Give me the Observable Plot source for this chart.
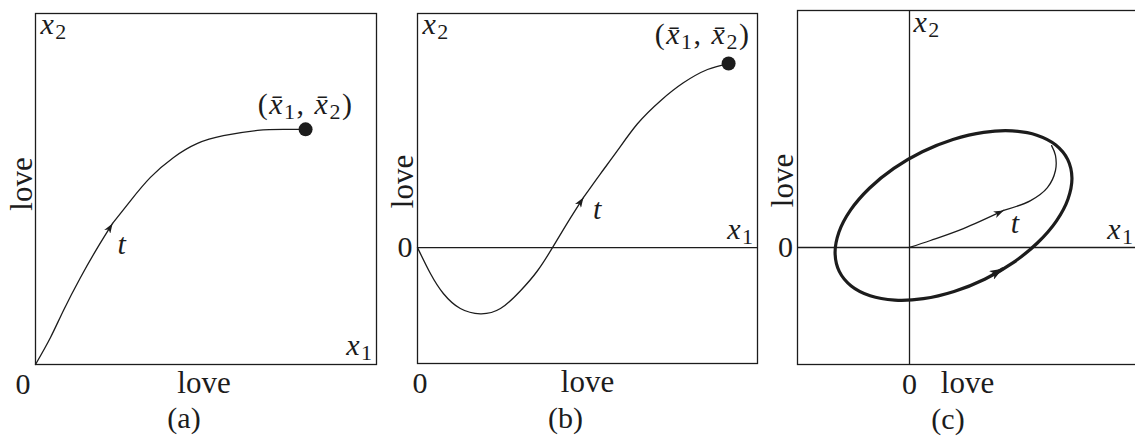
<!DOCTYPE html>
<html><head><meta charset="utf-8">
<script src="https://cdn.jsdelivr.net/npm/d3@7"></script>
<script src="https://cdn.jsdelivr.net/npm/@observablehq/plot@0.6"></script>
<style>
html,body{margin:0;padding:0;background:#fff;overflow:hidden;}
#wrap{position:relative;width:1135px;height:438px;overflow:hidden;background:#fff;}
#wrap svg{position:absolute;top:0;background:transparent;}
</style></head><body><div id="wrap"></div>
<script>
// ---------- Panel (a): trajectory to a stable equilibrium ----------
const aX1 = [0, 0.44, 0.82, 1.32, 1.82, 2.26, 2.79, 3.37, 4.05, 4.75, 5.51, 6.51, 7.27, 7.92];
const aX2 = [0, 0.77, 1.54, 2.48, 3.33, 4.02, 4.67, 5.33, 5.90, 6.30, 6.52, 6.67, 6.70, 6.70];
const aArrowAt = 5;

// ---------- Panel (b): trajectory dipping below zero ----------
const bX1 = [0, 0.38, 0.76, 1.26, 1.85, 2.44, 3.03, 3.53, 3.97, 4.41, 4.88, 5.38, 5.88, 6.47, 7.15, 7.82, 8.53, 9.15];
const bX2 = [0, -0.74, -1.31, -1.74, -1.89, -1.74, -1.23, -0.66, 0, 0.71, 1.43, 2.11, 2.77, 3.54, 4.20, 4.71, 5.09, 5.26];
const bArrowAt = 10;

// ---------- Panel (c): limit cycle and spiral out from origin ----------
const cCycleX1 = [4.521, 4.179, 3.638, 2.935, 2.118, 1.241, 0.366, -0.448, -1.146, -1.681, -2.015, -2.126, -2.007, -1.665, -1.125, -0.421, 0.396, 1.273, 2.148, 2.962, 3.660, 4.195, 4.529, 4.641];
const cCycleX2 = [2.511, 2.928, 3.208, 3.331, 3.290, 3.086, 2.735, 2.260, 1.693, 1.073, 0.442, -0.157, -0.683, -1.100, -1.380, -1.503, -1.462, -1.258, -0.907, -0.432, 0.136, 0.755, 1.387, 1.985];
const cCycleArrowX1 = [2.40, 2.66];
const cCycleArrowX2 = [-0.76, -0.61];
const cSpiralX1 = [0, 0.6, 1.54, 2.69, 3.46, 3.94, 4.17, 4.17, 4.06];
const cSpiralX2 = [0, 0.2, 0.54, 1.06, 1.34, 1.71, 2.2, 2.63, 2.91];
const cSpiralArrowAt = 3;

// ---------- Text ----------
const axisWord = "love";
const zeroLabel = "0";
const x1Label = "x_1";
const x2Label = "x_2";
const tLabel = "t";
const eqLabel = "(x\u0304_1, x\u0304_2)";
const captions = ["(a)", "(b)", "(c)"];

const FONT = "Liberation Serif";
const INK = "#1c1c1c";
const NS = "http://www.w3.org/2000/svg";

const table = (xs, ys) => xs.map((x1, i) => ({x1, x2: ys[i]}));

function arrowHead(len, half) {
  return (color, context) => {
    const doc = (context && context.document) || document;
    const m = doc.createElementNS(NS, "marker");
    m.setAttribute("viewBox", `${-len} ${-half} ${len} ${2 * half}`);
    m.setAttribute("markerWidth", len);
    m.setAttribute("markerHeight", 2 * half);
    m.setAttribute("markerUnits", "userSpaceOnUse");
    m.setAttribute("orient", "auto");
    m.setAttribute("refX", 0);
    m.setAttribute("refY", 0);
    m.setAttribute("fill", color);
    m.setAttribute("stroke", "none");
    const p = doc.createElementNS(NS, "path");
    p.setAttribute("d", `M0,0L${-len},${-half}L${-len * 0.72},0L${-len},${half}Z`);
    m.appendChild(p);
    return m;
  };
}
const thinArrow = arrowHead(10, 3.6);
const thickArrow = arrowHead(13, 5);

const T = {fontFamily: FONT, fontSize: 30, fill: INK, lineAnchor: "middle", textAnchor: "middle", text: d => d};
const W = {...T, fontSize: 31};

// convert simple math markup into tspans (italic letters, subscripts)
function mathify(svg) {
  svg.querySelectorAll("text").forEach(t => {
    const s = t.textContent;
    if (!(s.includes("_") || s === tLabel)) return;
    const parts = [];
    for (let i = 0; i < s.length; i++) {
      const c = s[i];
      if (c === "_") { parts.push({s: s[i + 1], sub: true}); i++; continue; }
      if (/[a-z]/.test(c)) {
        let g = c;
        while (i + 1 < s.length && /[\u0300-\u036f]/.test(s[i + 1])) g += s[++i];
        parts.push({s: g, it: true});
        continue;
      }
      parts.push({s: c});
    }
    t.textContent = "";
    t.setAttribute("letter-spacing", "1.5");
    let shifted = false;
    for (const p of parts) {
      const ts = document.createElementNS(NS, "tspan");
      ts.textContent = p.s;
      if (p.it) ts.setAttribute("font-style", "italic");
      if (p.sub) { ts.setAttribute("font-size", "22px"); ts.setAttribute("dy", "5"); shifted = true; }
      else if (shifted) { ts.setAttribute("dy", "-5"); shifted = false; }
      t.appendChild(ts);
    }
  });
}

const wrap = document.getElementById("wrap");
function panel(left, opts, marks) {
  const svg = Plot.plot({
    height: 438,
    ...opts,
    x: {domain: opts.xd, axis: null},
    y: {domain: opts.yd, axis: null},
    marks
  });
  svg.style.left = left + "px";
  mathify(svg);
  wrap.appendChild(svg);
}

function curveMarks(data, k, sw, arrow, curve = "natural") {
  return [
    Plot.line(data.slice(0, k + 1), {x: "x1", y: "x2", stroke: INK, strokeWidth: sw, curve, markerEnd: arrow}),
    Plot.line(data.slice(k), {x: "x1", y: "x2", stroke: INK, strokeWidth: sw, curve})
  ];
}

// ---- (a)
const aData = table(aX1, aX2);
const aEnd = aData[aData.length - 1];
panel(0, {width: 380, marginLeft: 35, marginRight: 4, marginTop: 13, marginBottom: 74, xd: [0, 10], yd: [0, 10]}, [
  Plot.frame({stroke: INK, strokeWidth: 1.3}),
  ...curveMarks(aData, aArrowAt, 1.3, thinArrow),
  Plot.dot([aEnd], {x: "x1", y: "x2", r: 7, fill: INK}),
  Plot.text([x2Label], {...T, frameAnchor: "top-left", textAnchor: "start", dx: 5, dy: 11}),
  Plot.text([x1Label], {...T, frameAnchor: "bottom-right", textAnchor: "end", dx: -3, dy: -19.5}),
  Plot.text([axisWord], {...W, frameAnchor: "left", rotate: -90, dx: -13, dy: -5}),
  Plot.text([axisWord], {...W, frameAnchor: "bottom", dx: -2, dy: 19}),
  Plot.text([zeroLabel], {...T, x: () => 0, y: () => 0, dx: -12.5, dy: 19.5}),
  Plot.text([captions[0]], {...T, frameAnchor: "bottom", dx: -22, dy: 54}),
  Plot.text([tLabel], {...T, x: () => 2.55, y: () => 3.43}),
  Plot.text([eqLabel], {...T, x: () => aEnd.x1, y: () => aEnd.x2, dy: -25})
]);

// ---- (b)
const bData = table(bX1, bX2);
const bEnd = bData[bData.length - 1];
panel(380, {width: 380, marginLeft: 37, marginRight: 3, marginTop: 13, marginBottom: 75, xd: [0, 10], yd: [-3.31, 6.69]}, [
  Plot.frame({stroke: INK, strokeWidth: 1.3}),
  Plot.ruleY([0], {stroke: INK, strokeWidth: 1.3}),
  ...curveMarks(bData, bArrowAt, 1.3, thinArrow),
  Plot.dot([bEnd], {x: "x1", y: "x2", r: 7, fill: INK}),
  Plot.text([x2Label], {...T, frameAnchor: "top-left", textAnchor: "start", dx: 5, dy: 11}),
  Plot.text([x1Label], {...T, y: () => 0, frameAnchor: "right", textAnchor: "end", dx: -3, dy: -18}),
  Plot.text([axisWord], {...W, frameAnchor: "left", rotate: -90, dx: -14.6, dy: -7}),
  Plot.text([axisWord], {...W, frameAnchor: "bottom", dx: 0, dy: 19}),
  Plot.text([zeroLabel], {...T, y: () => 0, frameAnchor: "left", dx: -12.5}),
  Plot.text([zeroLabel], {...T, x: () => 0, frameAnchor: "bottom", dx: 2.5, dy: 19.5}),
  Plot.text([captions[1]], {...T, frameAnchor: "bottom", dx: -22, dy: 55}),
  Plot.text([tLabel], {...T, x: () => 5.31, y: () => 1.1}),
  Plot.text([eqLabel], {...T, x: () => bEnd.x1, y: () => bEnd.x2, dx: -26, dy: -29})
]);

// ---- (c)
const cCycle = table(cCycleX1, cCycleX2);
const cCycleArrow = table(cCycleArrowX1, cCycleArrowX2);
const cSpiral = table(cSpiralX1, cSpiralX2);
panel(760, {width: 378, marginLeft: 37, marginRight: 1, marginTop: 10, marginBottom: 74, xd: [-3.2, 6.514], yd: [-3.343, 6.771]}, [
  Plot.frame({stroke: INK, strokeWidth: 1.3}),
  Plot.ruleY([0], {stroke: INK, strokeWidth: 1.3}),
  Plot.ruleX([0], {stroke: INK, strokeWidth: 1.3}),
  Plot.line(cCycle, {x: "x1", y: "x2", stroke: INK, strokeWidth: 3.2, curve: "catmull-rom-closed"}),
  Plot.line(cCycleArrow, {x: "x1", y: "x2", stroke: INK, strokeWidth: 3.2, markerEnd: thickArrow}),
  ...curveMarks(cSpiral, cSpiralArrowAt, 1.3, thinArrow, "catmull-rom"),
  Plot.text([x2Label], {...T, x: () => 0, frameAnchor: "top", textAnchor: "start", dx: 4, dy: 11.5}),
  Plot.text([x1Label], {...T, y: () => 0, frameAnchor: "right", textAnchor: "end", dx: -3, dy: -18}),
  Plot.text([axisWord], {...W, frameAnchor: "left", rotate: -90, dx: -14, dy: -7}),
  Plot.text([axisWord], {...W, frameAnchor: "bottom", dx: 0, dy: 19}),
  Plot.text([zeroLabel], {...T, y: () => 0, frameAnchor: "left", dx: -12}),
  Plot.text([zeroLabel], {...T, x: () => 0, frameAnchor: "bottom", dx: 0, dy: 19.5}),
  Plot.text([captions[2]], {...T, frameAnchor: "bottom", dx: -19.5, dy: 55}),
  Plot.text([tLabel], {...T, x: () => 3.03, y: () => 0.70})
]);
</script></body></html>
